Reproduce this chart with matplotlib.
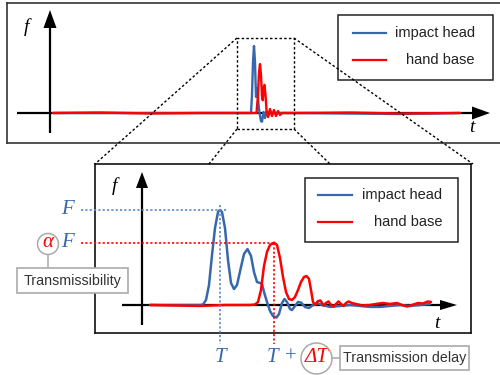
import matplotlib
matplotlib.use("Agg")
import matplotlib.pyplot as plt
import numpy as np
from matplotlib.patches import Rectangle, Ellipse
from matplotlib.lines import Line2D

# ---------------- data ----------------
series_names = ["impact head", "hand base"]
series_colors = ["#3767ad", "#ff0000"]

# overview signal (top panel)
top_t_head = [0.3, 7.0, 15.0, 20.1, 20.2, 20.3, 20.4, 20.5, 20.6, 20.75, 20.85, 20.95,
              21.1, 21.2, 21.35, 21.5, 21.65, 21.8, 22.0, 25.0, 35.0, 41.0]
top_f_head = [0.0, 0.0, 0.0, 0.0, 0.27, 0.76, 1.0, 0.76, 0.24, 0.37, 0.13, 0.0,
              -0.12, -0.13, 0.015, -0.075, 0.03, -0.045, 0.0, 0.0, -0.015, 0.0]
top_t_base = [0.3, 5.0, 10.0, 15.0, 20.65, 20.8, 20.9, 21.0, 21.1, 21.2, 21.28, 21.36,
              21.45, 21.55, 21.65, 21.8, 22.0, 22.2, 22.4, 22.6, 22.8, 23.0, 23.2,
              25.0, 30.0, 35.0, 41.0]
top_f_base = [0.0, 0.007, -0.007, 0.0, 0.0, 0.27, 0.61, 0.73, 0.57, 0.25, 0.19, 0.37,
              0.42, 0.27, 0.045, -0.06, 0.06, -0.045, 0.045, -0.045, 0.03, -0.03, 0.0,
              0.0, 0.007, -0.007, 0.0]

# zoomed signal (bottom panel)
t_head = [0.8, 5.8, 6.1, 6.4, 6.7, 7.0, 7.3, 7.6, 7.8, 8.0, 8.3, 8.6, 8.9, 9.2, 9.5,
          9.9, 10.2, 10.55, 10.9, 11.2, 11.5, 11.8, 12.0, 12.2, 12.5, 12.8, 13.1,
          13.45, 13.7, 14.0, 14.25, 14.5, 14.8, 15.0, 15.3, 15.6, 15.9, 16.3, 16.7,
          17.1, 17.5, 18.0, 18.8, 19.8, 20.8, 21.8, 22.8, 23.8, 24.8, 25.8, 26.8,
          27.8, 28.8]
f_head = [0.0, 0.0, 0.005, 0.053, 0.21, 0.526, 0.81, 0.979, 1.0, 0.979, 0.81, 0.474,
          0.232, 0.168, 0.21, 0.4, 0.537, 0.589, 0.516, 0.347, 0.242, 0.232, 0.221,
          0.137, 0.032, -0.063, -0.116, -0.132, -0.095, 0.021, 0.063, 0.032, -0.042,
          -0.053, -0.011, 0.032, 0.026, -0.021, -0.032, 0.0, 0.021, 0.0, -0.02, -0.01,
          0.0, -0.01, -0.02, -0.02, -0.01, 0.0, -0.01, 0.0, 0.01]
t_base = [0.8, 3.3, 5.8, 8.3, 10.8, 11.3, 11.6, 11.9, 12.2, 12.5, 12.8, 13.2, 13.5,
          13.8, 14.1, 14.4, 14.7, 15.0, 15.3, 15.6, 15.9, 16.2, 16.45, 16.7, 16.9,
          17.1, 17.3, 17.6, 17.85, 18.15, 18.4, 18.65, 18.9, 19.15, 19.4, 19.65,
          19.9, 20.15, 20.4, 20.65, 21.0, 21.4, 22.0, 22.8, 23.4, 24.1, 24.8, 25.5,
          26.0, 26.5, 27.0, 27.6, 28.1, 28.6, 28.9]
f_base = [0.0, -0.005, -0.01, 0.0, 0.0, 0.005, 0.032, 0.158, 0.411, 0.558, 0.632,
          0.656, 0.632, 0.495, 0.295, 0.137, 0.063, 0.053, 0.084, 0.158, 0.242, 0.295,
          0.305, 0.274, 0.158, 0.032, 0.0, 0.042, 0.047, -0.005, 0.021, 0.037, 0.0,
          -0.016, 0.011, 0.037, 0.011, -0.011, 0.021, 0.037, 0.021, 0.011, -0.005,
          0.0, 0.011, 0.021, 0.011, 0.021, 0.0, -0.016, 0.0, 0.021, 0.016, 0.037,
          0.032]

box_labels = ["Transmissibility", "Transmission delay"]

# ---------------- figure ----------------
W, H = 500, 375
fig = plt.figure(figsize=(5, 3.75), dpi=100)
fig.patch.set_facecolor("white")

SERIF = "Liberation Serif"
SANS = "Liberation Sans"
BLUE, RED = series_colors
BLUE_DOT = "#5b86c0"
GRAY = "#aaaaaa"


def fx(x):
    return x / W


def fy(y):
    return 1 - y / H


def axes_px(x0, y0, x1, y1):
    return [x0 / W, 1 - y1 / H, (x1 - x0) / W, (y1 - y0) / H]


def setup(ax, edge):
    ax.set_xticks([])
    ax.set_yticks([])
    for s in ax.spines.values():
        s.set_linewidth(1.2)
        s.set_color(edge)


def axis_arrows(ax, x0, x1, xh, hy, y0, y1, yh, hx):
    ax.plot([x0, xh], [0, 0], color="k", lw=1.6, solid_capstyle="butt", zorder=2)
    ax.fill([xh, x1, xh], [-hy, 0, hy], color="k", lw=0, zorder=2)
    ax.plot([0, 0], [y0, yh], color="k", lw=1.6, solid_capstyle="butt", zorder=2)
    ax.fill([-hx, 0, hx], [yh, y1, yh], color="k", lw=0, zorder=2)


curve = dict(solid_joinstyle="round", solid_capstyle="round")

# ---- top panel ----
ax_top = fig.add_axes(axes_px(7, 3, 506, 143))
setup(ax_top, "#333333")
ax_top.set_xlim(-4.3, 45.6)
ax_top.set_ylim(-30 / 67, 110 / 67)
axis_arrows(ax_top, -3.3, 44.0, 42.2, 0.097, -0.3, 1.537, 1.269, 0.65)
ax_top.plot(top_t_head, top_f_head, color=BLUE, lw=1.7, zorder=3, **curve)
ax_top.plot(top_t_base, top_f_base, color=RED, lw=1.7, zorder=4, **curve)
ax_top.text(-2.4, 1.28, "f", family=SERIF, style="italic", fontsize=14,
            ha="center", va="center")
ax_top.text(42.2, -0.22, "t", family=SERIF, style="italic", fontsize=14,
            ha="center", va="center")

# ---- bottom panel ----
ax_bot = fig.add_axes(axes_px(95, 164, 471, 333))
setup(ax_bot, "#111111")
ax_bot.set_xlim(-4.7, 32.9)
ax_bot.set_ylim(-28 / 95, 141 / 95)
axis_arrows(ax_bot, -2.0, 31.5, 29.8, 0.053, -0.21, 1.4, 1.232, 0.6)
ax_bot.plot(t_head, f_head, color=BLUE, lw=1.8, zorder=3, **curve)
ax_bot.plot(t_base, f_base, color=RED, lw=1.8, zorder=4, **curve)
ax_bot.text(-2.8, 1.25, "f", family=SERIF, style="italic", fontsize=14,
            ha="center", va="center")
ax_bot.text(29.5, -0.19, "t", family=SERIF, style="italic", fontsize=14,
            ha="center", va="center")

# peak markers
iT = int(np.argmax(f_head))
T, F = t_head[iT], f_head[iT]
iD = int(np.argmax(f_base))
TD, aF = t_base[iD], f_base[iD]
dots = (0, (1.3, 1.3))
ax_bot.plot([-6.1, T + 0.8], [F, F], color=BLUE_DOT, lw=1.2, ls=dots, clip_on=False, zorder=5)
ax_bot.plot([T, T], [F + 0.05, -0.41], color=BLUE_DOT, lw=1.2, ls=dots, clip_on=False, zorder=5)
ax_bot.plot([-6.1, TD + 0.1], [aF, aF], color=RED, lw=1.2, ls=dots, clip_on=False, zorder=5)
ax_bot.plot([TD, TD], [aF, -0.41], color=RED, lw=1.2, ls=dots, clip_on=False, zorder=5)


def bx(px):
    return (px - 142) / 10


def by(py):
    return (305 - py) / 95


lab = dict(family=SERIF, style="italic", fontsize=15, ha="center", va="center")
ax_bot.text(bx(67), F, "F", color=BLUE, **lab)
ax_bot.text(bx(67), aF, "F", color=BLUE, **lab)
ax_bot.text(bx(48), aF, "α", color=RED, **lab)
ax_bot.text(T, by(357), "T", color=BLUE, **lab)
ax_bot.text(TD - 0.2, by(357), "T", color=BLUE, **lab)
ax_bot.text(bx(291), by(357), "+", color=BLUE, family=SERIF, fontsize=15,
            ha="center", va="center")
ax_bot.text(bx(316.5), by(357), "ΔT", color=RED, **lab)

# ---- figure-level decorations ----
def circle_px(cx, cy, r):
    fig.add_artist(Ellipse((fx(cx), fy(cy)), 2 * r / W, 2 * r / H, transform=fig.transFigure,
                           fill=False, ec=GRAY, lw=1.1, zorder=7))


def line_px(xs, ys, **kw):
    fig.add_artist(Line2D([fx(x) for x in xs], [fy(y) for y in ys],
                          transform=fig.transFigure, **kw))


def box_px(x0, y0, x1, y1, text):
    fig.add_artist(Rectangle((fx(x0), fy(y1)), (x1 - x0) / W, (y1 - y0) / H,
                             transform=fig.transFigure, fc="white", ec=GRAY, lw=1.2,
                             zorder=7))
    fig.text(fx((x0 + x1) / 2), fy((y0 + y1) / 2), text, family=SANS, fontsize=10.3,
             color="#333333", ha="center", va="center", zorder=8)


circle_px(48, 244, 10.5)
line_px([48, 48], [254.5, 268], color=GRAY, lw=1.1, zorder=7)
box_px(17, 268, 128, 293, box_labels[0])

circle_px(316.5, 358.5, 15.5)
line_px([332, 340], [358, 358], color=GRAY, lw=1.1, zorder=7)
box_px(340, 346, 469, 370, box_labels[1])


def legend_px(x0, y0, x1, y1, lx0, lx1, rows, tr):
    fig.add_artist(Rectangle((fx(x0), fy(y1)), (x1 - x0) / W, (y1 - y0) / H,
                             transform=fig.transFigure, fc="white", ec="#222222",
                             lw=1.1, zorder=4))
    for name, col, y in zip(series_names, series_colors, rows):
        line_px([lx0, lx1], [y, y], color=col, lw=1.6, zorder=5)
        fig.text(fx(tr), fy(y), name, family=SANS, fontsize=10.5, color="#222222",
                 ha="right", va="center", zorder=5)


legend_px(338, 15, 493, 80, 353, 386, [33, 60], 475)
legend_px(305, 178, 458, 242, 318, 352, [195, 222], 442)

# zoom window and connectors
dash = (0, (1.8, 1.6))
fig.add_artist(Rectangle((fx(237), fy(129)), 57 / W, 91 / H, transform=fig.transFigure,
                         fill=False, ec="k", lw=1.0, ls=dash, zorder=6))
for (xa, ya), (xb, yb) in [((237, 38), (95, 164)), ((294, 38), (473, 164)),
                           ((237, 129), (209, 164)), ((294, 129), (330, 164))]:
    line_px([xa, xb], [ya, yb], color="k", lw=1.0, ls=dash, zorder=6)

fig.savefig("out.png", dpi=100)
